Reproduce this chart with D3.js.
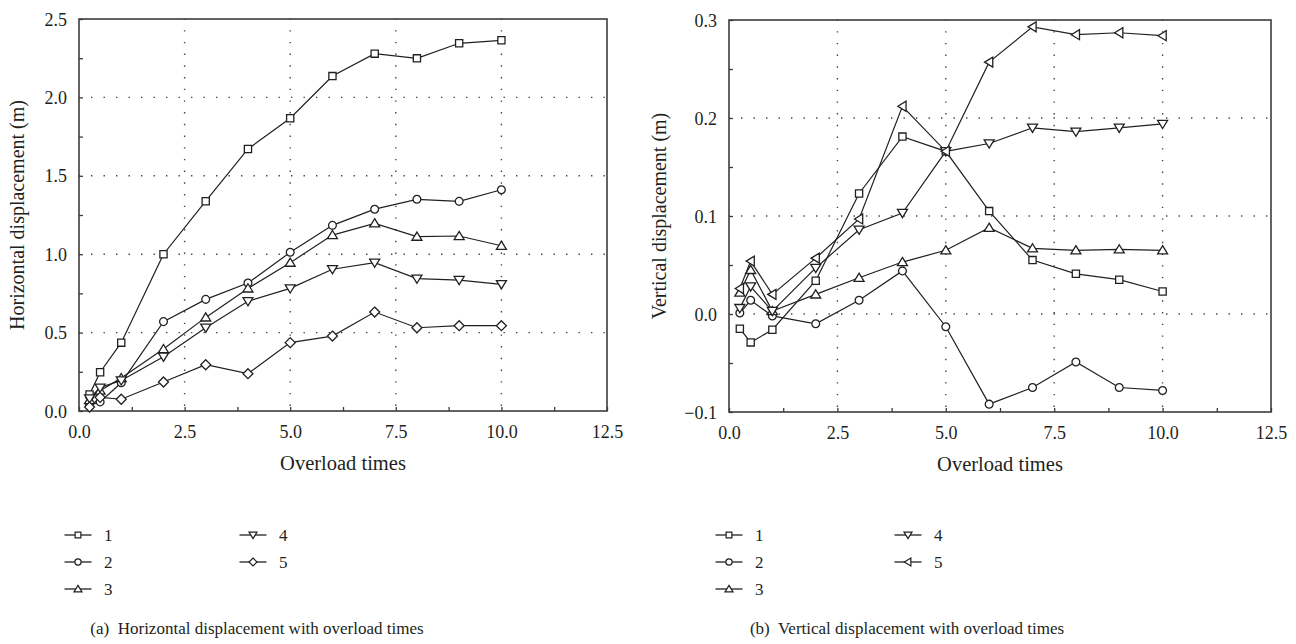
<!DOCTYPE html>
<html>
<head>
<meta charset="utf-8">
<script src="https://cdn.jsdelivr.net/npm/d3@7"></script>
<style>
  body { margin: 0; background: #fff; }
  svg { display: block; }
  text { font-family: "Liberation Serif", "Times New Roman", serif; fill: #231f20; }
</style>
</head>
<body>
<svg id="fig" width="1296" height="644"></svg>
<script>
// Overload multiples at which displacements were recorded
const overloadTimes = [0.25, 0.5, 1, 2, 3, 4, 5, 6, 7, 8, 9, 10];
const seriesNames = ["1", "2", "3", "4", "5"];

// Horizontal displacement (m), one array per monitoring point
const horiz1 = [0.106, 0.247, 0.436, 1.000, 1.338, 1.671, 1.867, 2.136, 2.279, 2.249, 2.345, 2.364];
const horiz2 = [0.040, 0.058, 0.180, 0.570, 0.712, 0.816, 1.012, 1.184, 1.287, 1.350, 1.337, 1.411];
const horiz3 = [0.070, 0.130, 0.210, 0.395, 0.597, 0.782, 0.946, 1.122, 1.197, 1.112, 1.116, 1.054];
const horiz4 = [0.080, 0.149, 0.195, 0.346, 0.531, 0.700, 0.782, 0.904, 0.946, 0.844, 0.835, 0.808];
const horiz5 = [0.025, 0.087, 0.075, 0.185, 0.295, 0.238, 0.436, 0.478, 0.631, 0.531, 0.544, 0.544];

// Vertical displacement (m)
const vert1 = [-0.015, -0.029, -0.016, 0.034, 0.123, 0.181, 0.166, 0.105, 0.055, 0.041, 0.035, 0.023];
const vert2 = [0.001, 0.014, -0.002, -0.010, 0.014, 0.044, -0.013, -0.092, -0.075, -0.049, -0.075, -0.078];
const vert3 = [0.022, 0.045, 0.003, 0.020, 0.037, 0.053, 0.065, 0.088, 0.067, 0.065, 0.066, 0.065];
const vert4 = [0.006, 0.028, 0.003, 0.047, 0.086, 0.103, 0.166, 0.174, 0.190, 0.186, 0.190, 0.194];
const vert5 = [0.026, 0.054, 0.020, 0.057, 0.097, 0.212, 0.166, 0.257, 0.293, 0.285, 0.287, 0.284];

// Axis ticks
const xTickValues = [0, 2.5, 5, 7.5, 10, 12.5];
const xMinorValues = [1.25, 3.75, 6.25, 8.75, 11.25];
const horizTickValues = [0, 0.5, 1.0, 1.5, 2.0, 2.5];
const horizMinorValues = [0.25, 0.75, 1.25, 1.75, 2.25];
const vertTickValues = [-0.1, 0.0, 0.1, 0.2, 0.3];
const vertMinorValues = [-0.05, 0.05, 0.15, 0.25];

const ink = "#231f20";
const frame = "#3c3c3c";

// Marker outlines, centred on the data point
const markers = {
  square:   s => `M${-3.6*s},${-3.6*s}h${7.2*s}v${7.2*s}h${-7.2*s}Z`,
  circle:   s => { const r = 3.9*s; return `M${r},0A${r},${r} 0 1,1 ${-r},0A${r},${r} 0 1,1 ${r},0Z`; },
  up:       s => `M0,${-4.6*s}L${5*s},${3.6*s}L${-5*s},${3.6*s}Z`,
  down:     s => `M0,${4.6*s}L${5*s},${-3.6*s}L${-5*s},${-3.6*s}Z`,
  diamond:  s => `M0,${-5*s}L${5*s},0L0,${5*s}L${-5*s},0Z`,
  left:     s => `M${-4.6*s},0L${3.6*s},${-5*s}L${3.6*s},${5*s}Z`
};

const svg = d3.select("#fig");

function drawPanel(cfg) {
  const x = d3.scaleLinear().domain([0, 12.5]).range([cfg.left, cfg.right]);
  const y = d3.scaleLinear().domain(cfg.yDomain).range([cfg.bottom, cfg.top]);
  const g = svg.append("g");
  const fmt = d3.format(".1f");

  // dotted grid at the inner major ticks
  g.append("g").selectAll("line")
    .data(xTickValues.slice(1, -1)).join("line")
    .attr("x1", d => x(d)).attr("x2", d => x(d))
    .attr("y1", cfg.bottom).attr("y2", cfg.top)
    .attr("stroke", "#444").attr("stroke-width", 1.4)
    .attr("stroke-dasharray", "1.4 10.3").attr("stroke-dashoffset", -5);
  g.append("g").selectAll("line")
    .data(cfg.yTicks.slice(1, -1)).join("line")
    .attr("x1", cfg.left).attr("x2", cfg.right)
    .attr("y1", d => y(d)).attr("y2", d => y(d))
    .attr("stroke", "#444").attr("stroke-width", 1.4)
    .attr("stroke-dasharray", "1.4 11.1").attr("stroke-dashoffset", -12);

  // bottom axis with inward ticks
  const xAxis = d3.axisBottom(x).tickValues(xTickValues).tickFormat(fmt).tickSizeInner(-4).tickSizeOuter(0).tickPadding(14);
  const xg = g.append("g").attr("transform", `translate(0,${cfg.bottom})`).call(xAxis);
  xg.selectAll(".tick line").attr("stroke", frame).attr("stroke-width", 1.3);
  g.append("g").attr("transform", `translate(0,${cfg.bottom})`)
    .call(d3.axisBottom(x).tickValues(xMinorValues).tickFormat("").tickSizeInner(-4).tickSizeOuter(0))
    .call(s => s.select(".domain").remove())
    .selectAll(".tick line").attr("stroke", frame).attr("stroke-width", 1.3);

  // left axis with inward ticks
  const yAxis = d3.axisLeft(y).tickValues(cfg.yTicks).tickFormat(fmt).tickSizeInner(-4).tickSizeOuter(0).tickPadding(12);
  const yg = g.append("g").attr("transform", `translate(${cfg.left},0)`).call(yAxis);
  yg.selectAll(".tick line").attr("stroke", frame).attr("stroke-width", 1.3);
  g.append("g").attr("transform", `translate(${cfg.left},0)`)
    .call(d3.axisLeft(y).tickValues(cfg.yMinor).tickFormat("").tickSizeInner(-4).tickSizeOuter(0))
    .call(s => s.select(".domain").remove())
    .selectAll(".tick line").attr("stroke", frame).attr("stroke-width", 1.3);

  [xg, yg].forEach(a => {
    a.select(".domain").remove();
    a.selectAll(".tick text").attr("font-size", 18).attr("fill", ink)
      .attr("font-family", '"Liberation Serif", serif');
  });
  yg.selectAll(".tick text").attr("dy", "0.34em");

  // plot frame
  g.append("rect")
    .attr("x", cfg.left).attr("y", cfg.top)
    .attr("width", cfg.right - cfg.left).attr("height", cfg.bottom - cfg.top)
    .attr("fill", "none").attr("stroke", frame).attr("stroke-width", 1.6);

  // series lines and markers
  const line = d3.line().x((d, i) => x(overloadTimes[i])).y(d => y(d));
  cfg.series.forEach((vals, k) => {
    g.append("path").datum(vals).attr("d", line)
      .attr("fill", "none").attr("stroke", ink).attr("stroke-width", 1.2);
  });
  cfg.series.forEach((vals, k) => {
    g.append("g").selectAll("path").data(vals).join("path")
      .attr("transform", (d, i) => `translate(${x(overloadTimes[i])},${y(d)})`)
      .attr("d", markers[cfg.shapes[k]](1))
      .attr("fill", "#fff").attr("stroke", ink).attr("stroke-width", 1.3);
  });

  // axis titles
  g.append("text")
    .attr("x", (cfg.left + cfg.right) / 2).attr("y", cfg.bottom + 59)
    .attr("text-anchor", "middle").attr("font-size", 20.5)
    .text("Overload times");
  g.append("text")
    .attr("transform", `translate(${cfg.yTitleX},${(cfg.top + cfg.bottom) / 2}) rotate(-90)`)
    .attr("text-anchor", "middle").attr("font-size", 20)
    .text(cfg.yTitle);

  // legend: two columns of line + marker + label
  const cols = [[0, 1, 2], [3, 4]];
  cols.forEach((col, ci) => {
    col.forEach((k, ri) => {
      const cx = cfg.legendX[ci], cy = 535 + ri * 27;
      const lg = svg.append("g").attr("transform", `translate(${cx},${cy})`);
      lg.append("line").attr("x1", -13.5).attr("x2", 13.5)
        .attr("stroke", ink).attr("stroke-width", 1.3);
      lg.append("path").attr("d", markers[cfg.shapes[k]](0.8))
        .attr("fill", "#fff").attr("stroke", ink).attr("stroke-width", 1.2);
      lg.append("text").attr("x", 26).attr("y", 6).attr("font-size", 17)
        .text(seriesNames[k]);
    });
  });

  // panel caption
  svg.append("text")
    .attr("x", cfg.captionX).attr("y", 634)
    .attr("text-anchor", "middle").attr("font-size", 17)
    .attr("xml:space", "preserve")
    .text(cfg.caption);
}

drawPanel({
  left: 79, right: 607, top: 19, bottom: 411,
  yDomain: [0, 2.5], yTicks: horizTickValues, yMinor: horizMinorValues,
  series: [horiz1, horiz2, horiz3, horiz4, horiz5],
  shapes: ["square", "circle", "up", "down", "diamond"],
  yTitle: "Horizontal displacement (m)", yTitleX: 24,
  legendX: [78, 253],
  caption: "(a)  Horizontal displacement with overload times", captionX: 257
});

drawPanel({
  left: 729, right: 1271, top: 20, bottom: 412,
  yDomain: [-0.1, 0.3], yTicks: vertTickValues, yMinor: vertMinorValues,
  series: [vert1, vert2, vert3, vert4, vert5],
  shapes: ["square", "circle", "up", "down", "left"],
  yTitle: "Vertical displacement (m)", yTitleX: 666,
  legendX: [729, 908],
  caption: "(b)  Vertical displacement with overload times", captionX: 907
});
</script>
</body>
</html>
